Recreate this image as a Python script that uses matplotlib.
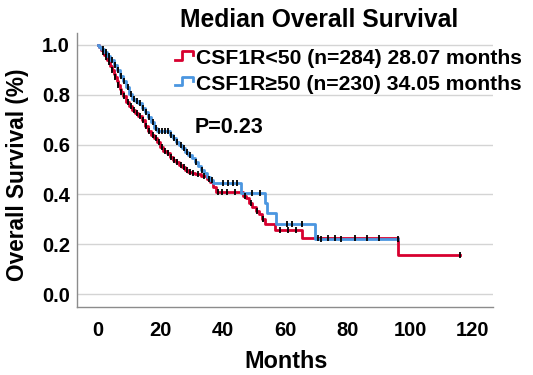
import numpy as np
import matplotlib
matplotlib.use("Agg")
import matplotlib.pyplot as plt
from matplotlib.lines import Line2D

plt.rcParams['font.family'] = ['Liberation Sans', 'DejaVu Sans']

# ---- data ----
red_t = [0, 0.5, 1, 1.5, 2, 2.5, 3, 3.5, 4, 4.5, 5, 5.5, 6, 6.5, 7, 7.5, 8, 9, 10, 11,
         12, 13, 14, 15, 16, 17, 18, 19, 20, 21, 22, 23, 24, 25, 26, 27, 28, 29, 30, 31,
         33, 35, 36, 37, 38, 46.5, 47.5, 48.5, 49.5, 50.5, 51.5, 52.5, 53.5, 56.7, 65.5, 96]
red_s = [1.0, 0.99, 0.98, 0.97, 0.96, 0.95, 0.94, 0.93, 0.915, 0.90, 0.885, 0.87, 0.855,
         0.84, 0.825, 0.81, 0.795, 0.77, 0.755, 0.74, 0.728, 0.713, 0.70, 0.675, 0.655,
         0.64, 0.625, 0.61, 0.59, 0.575, 0.565, 0.55, 0.54, 0.53, 0.52, 0.51, 0.50, 0.49,
         0.485, 0.48, 0.475, 0.46, 0.45, 0.43, 0.41, 0.395, 0.385, 0.365, 0.35, 0.335,
         0.32, 0.30, 0.28, 0.257, 0.227, 0.155]
red_end = 116
red_cens = [1.5, 2.5, 3.5, 4.5, 5.5, 6.5, 7.5, 8.5, 9.5, 10.5, 11.5, 12.5, 13.5, 14.5,
            15.5, 16.5, 17.5, 18.5, 19.5, 20.5, 21.5, 22.5, 23.5, 24.5, 25.5, 26.5, 27.5,
            28.5, 29.5, 30.5, 32, 34, 35.5, 38.5, 39.7, 41.3, 44, 47, 49, 51, 53, 58.3,
            61, 63.5, 70.5, 73.7, 76, 82.4, 86.2, 90, 116]

blue_t = [0, 0.5, 1, 2, 3, 4, 5, 6, 7, 8, 9, 10, 11, 12, 13, 14, 15, 16, 17, 18, 19, 23,
          24, 25, 26, 27, 28, 29, 30, 31, 32, 33, 34, 35, 36, 37, 46, 53.5, 54.3, 57, 69.7]
blue_s = [1.0, 0.99, 0.985, 0.97, 0.955, 0.94, 0.92, 0.90, 0.875, 0.855, 0.83, 0.805,
          0.785, 0.775, 0.765, 0.745, 0.73, 0.71, 0.69, 0.665, 0.655, 0.64, 0.625, 0.61,
          0.60, 0.585, 0.57, 0.56, 0.545, 0.53, 0.515, 0.50, 0.485, 0.47, 0.457, 0.446,
          0.405, 0.365, 0.325, 0.28, 0.22]
blue_end = 96
blue_cens = [1.5, 2.5, 3.5, 4.5, 5.5, 6.5, 7.5, 8.5, 9.5, 10.5, 11.5, 12.5, 13.5, 14.5,
             15.5, 16.5, 17.5, 18.5, 19.5, 20.5, 21.5, 22.5, 23.5, 24.5, 25.5, 26.5, 27.5,
             28.5, 29.5, 31.5, 33.5, 36.5, 40, 41.7, 43.3, 44.6, 49.4, 52, 60.6, 62.2,
             65.4, 71.5, 78, 96]

series_labels = ["CSF1R<50 (n=284) 28.07 months", "CSF1R\u226550 (n=230) 34.05 months"]
colors = ["#d7002f", "#4b96e0"]
xticks = [0, 20, 40, 60, 80, 100, 120]
yticks = [0.0, 0.2, 0.4, 0.6, 0.8, 1.0]
title = "Median Overall Survival"
p_text = "P=0.23"

W, H = 533, 375
fig = plt.figure(figsize=(W / 100, H / 100), dpi=100)
ax = fig.add_axes([77 / W, 1 - 307 / H, (493 - 77) / W, (307 - 33) / H])

def surv_at(t_arr, s_arr, x):
    idx = np.searchsorted(np.asarray(t_arr), np.asarray(x), side='right') - 1
    return np.asarray(s_arr)[idx]

curves = [(red_t, red_s, red_end, red_cens), (blue_t, blue_s, blue_end, blue_cens)]
for (t, s, end, cens), c in zip(curves, colors):
    tt = list(t) + [end]
    ss = list(s) + [s[-1]]
    ax.step(tt, ss, where='post', color=c, lw=2.0, zorder=3)
for (t, s, end, cens), c in zip(curves, colors):
    cy = surv_at(t, s, cens)
    ax.plot(cens, cy, ls='none', marker='|', ms=5, mew=1.3, color='black', zorder=4)

ax.set_xlim(-6.7, 126.6)
ax.set_ylim(-0.052, 1.048)
ax.set_xticks(xticks)
ax.set_yticks(yticks)
ax.set_xticklabels([str(v) for v in xticks], fontsize=14.5, fontweight='bold')
ax.set_yticklabels([f"{v:.1f}" for v in yticks], fontsize=14.5, fontweight='bold')
ax.tick_params(axis='both', length=0)
ax.tick_params(axis='x', pad=10)
ax.tick_params(axis='y', pad=5)
ax.yaxis.grid(True, color='#d4d4d4', lw=1.0)
ax.set_axisbelow(True)
for sp in ['top', 'right']:
    ax.spines[sp].set_visible(False)
for sp in ['left', 'bottom']:
    ax.spines[sp].set_color('#8c8c8c')
    ax.spines[sp].set_linewidth(1.0)

fig.text(286 / W, 1 - 362 / H, "Months", fontsize=16.8, fontweight='bold',
         ha='center', va='center')
fig.text(18 / W, 1 - 175 / H, "Overall Survival (%)", rotation=90, fontsize=16.3,
         fontweight='bold', ha='center', va='center')
fig.text(319 / W, 1 - 20 / H, title, fontsize=17.7, fontweight='bold',
         ha='center', va='center')
fig.text(195 / W, 1 - 128 / H, p_text, fontsize=15.5, fontweight='bold',
         ha='left', va='center')

# legend with step-shaped handles
rows = [(60, 50.7, 55, 59), (85, 76.7, 81, 84)]
for (yb, yt, ym, yc), lab, c in zip(rows, series_labels, colors):
    xs = [175 / W, 182 / W, 182 / W, 193 / W, 193 / W]
    ys = [1 - yb / H, 1 - yb / H, 1 - yt / H, 1 - yt / H, 1 - ym / H]
    fig.add_artist(Line2D(xs, ys, color=c, lw=2.0, transform=fig.transFigure))
    fig.text(196 / W, 1 - yc / H, lab, fontsize=15.2, fontweight='bold',
             ha='left', va='center')

fig.savefig("out.png", dpi=100)
